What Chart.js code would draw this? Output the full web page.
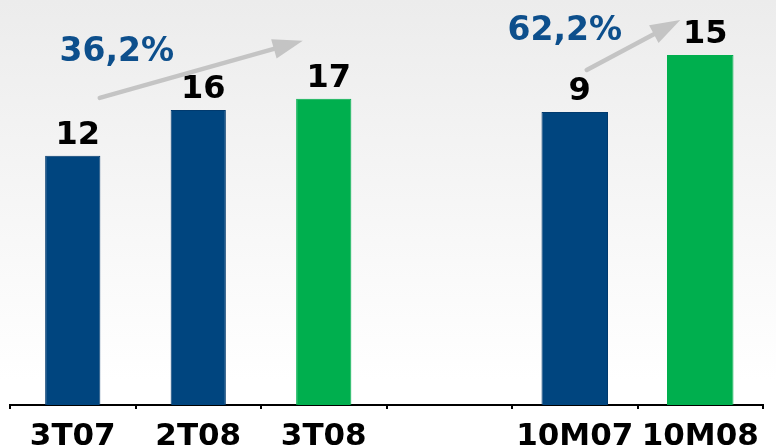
<!DOCTYPE html>
<html>
<head>
<meta charset="utf-8">
<script src="https://cdn.jsdelivr.net/npm/chart.js@4/dist/chart.umd.min.js"></script>
<style>
  html, body { margin: 0; padding: 0; }
  body { width: 776px; height: 447px; background: linear-gradient(to bottom, #ececec 0%, #f6f6f6 45%, #ffffff 85%); }
  #wrap { position: relative; width: 776px; height: 447px; }
</style>
</head>
<body>
<div id="wrap"><canvas id="c" width="776" height="447"></canvas></div>
<script>
// ---- data ----
const categories = ['3T07', '2T08', '3T08', '', '10M07', '10M08'];
const quarterValues = [12, 16, 17, null, null, null];
const ytdValues = [null, null, null, null, 9, 15];
const growthLabels = ['36,2%', '62,2%'];

const BLUE = '#00457f';
const BLUE_BORDER = '#013a6e';
const GREEN = '#00af4e';
const barColors = [BLUE, BLUE, GREEN, BLUE, BLUE, GREEN];
const borderColors = [BLUE_BORDER, BLUE_BORDER, GREEN, BLUE_BORDER, BLUE_BORDER, GREEN];

// value-axis ranges (the picture uses a truncated scale per group)
const Y1_MIN = -9.8, Y1_PX = 11.43;
const Y2_MIN = -21.84, Y2_PX = 9.5;

const valueLabelPlugin = {
  id: 'valueLabels',
  afterDatasetsDraw(chart) {
    const ctx = chart.ctx;
    ctx.save();
    ctx.font = 'bold 32px "DejaVu Sans"';
    ctx.fillStyle = '#000';
    ctx.textAlign = 'center';
    ctx.textBaseline = 'alphabetic';
    chart.data.datasets.forEach((ds, di) => {
      const meta = chart.getDatasetMeta(di);
      meta.data.forEach((bar, i) => {
        const v = ds.data[i];
        if (v == null) return;
        ctx.fillText(String(v), bar.x + 5, bar.y - 12);
      });
    });
    ctx.restore();
  }
};

function drawArrow(ctx, x1, y1, x2, y2) {
  const ang = Math.atan2(y2 - y1, x2 - x1);
  const headLen = 30, headHalf = 10;
  const bx = x2 - headLen * Math.cos(ang), by = y2 - headLen * Math.sin(ang);
  ctx.strokeStyle = '#c4c4c4';
  ctx.fillStyle = '#c4c4c4';
  ctx.lineWidth = 4.5;
  ctx.lineCap = 'round';
  ctx.beginPath();
  ctx.moveTo(x1, y1);
  ctx.lineTo(bx, by);
  ctx.stroke();
  ctx.beginPath();
  ctx.moveTo(x2, y2);
  ctx.lineTo(bx + headHalf * Math.sin(ang), by - headHalf * Math.cos(ang));
  ctx.lineTo(bx - headHalf * Math.sin(ang), by + headHalf * Math.cos(ang));
  ctx.closePath();
  ctx.fill();
}

const growthPlugin = {
  id: 'growth',
  afterDatasetsDraw(chart) {
    const ctx = chart.ctx;
    const a = chart.getDatasetMeta(0).data;
    const b = chart.getDatasetMeta(1).data;
    ctx.save();
    drawArrow(ctx, a[0].x + 27, a[0].y - 58, a[2].x - 21, a[2].y - 58);
    drawArrow(ctx, b[4].x + 12, b[4].y - 42, b[5].x - 20, b[5].y - 35);
    ctx.font = 'bold 33px "DejaVu Sans"';
    ctx.fillStyle = '#0d4f8c';
    ctx.textAlign = 'center';
    ctx.textBaseline = 'alphabetic';
    ctx.fillText(growthLabels[0], a[0].x + 44, a[0].y - 95);
    ctx.fillText(growthLabels[1], b[4].x - 10, b[4].y - 72);
    ctx.restore();
  }
};

new Chart(document.getElementById('c'), {
  type: 'bar',
  data: {
    labels: categories,
    datasets: [
      { data: quarterValues, yAxisID: 'y', base: Y1_MIN, backgroundColor: barColors, borderColor: borderColors,
        borderWidth: 1, barPercentage: 0.44, categoryPercentage: 1, grouped: false },
      { data: ytdValues, yAxisID: 'y2', base: Y2_MIN, backgroundColor: barColors, borderColor: borderColors,
        borderWidth: 1, barPercentage: 0.53, categoryPercentage: 1, grouped: false }
    ]
  },
  options: {
    responsive: false,
    animation: false,
    layout: { padding: { left: 10, right: 13, top: 0, bottom: 0 } },
    plugins: { legend: { display: false }, tooltip: { enabled: false } },
    scales: {
      x: {
        offset: true,
        grid: { display: true, offset: true, drawOnChartArea: false, drawTicks: true, tickLength: 4, color: '#000', lineWidth: 2 },
        border: { display: true, color: '#000', width: 2 },
        ticks: { color: '#000', font: { family: '"DejaVu Sans"', weight: 'bold', size: 31 }, padding: 9, maxRotation: 0, autoSkip: false },
        afterFit(s) { s.height = 42; }
      },
      y: { display: false, min: Y1_MIN, max: Y1_MIN + 405 / Y1_PX },
      y2: { display: false, min: Y2_MIN, max: Y2_MIN + 405 / Y2_PX }
    }
  },
  plugins: [valueLabelPlugin, growthPlugin]
});
</script>
</body>
</html>
